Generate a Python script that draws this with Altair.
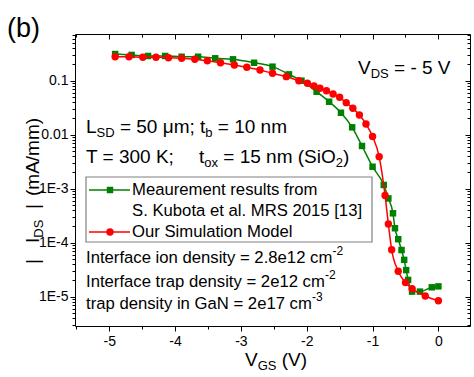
import altair as alt
import pandas as pd

# ---------------- data ----------------
meas_vgs = [-4.91, -4.66, -4.41, -4.15, -3.90, -3.65, -3.39, -3.12, -2.80, -2.52,
            -2.27, -2.08, -1.85, -1.66, -1.48, -1.31, -1.16, -1.00, -0.83, -0.76,
            -0.69, -0.66, -0.61, -0.56, -0.52, -0.49, -0.46, -0.40, -0.28, -0.10, 0.0]
meas_ids = [0.312, 0.300, 0.287, 0.287, 0.278, 0.278, 0.260, 0.249, 0.215, 0.182,
            0.131, 0.100, 0.0625, 0.0408, 0.0255, 0.0137, 0.00618, 0.00255, 0.00117, 6.6e-4,
            3.5e-4, 1.85e-4, 1.16e-4, 7.3e-5, 4.8e-5, 3.1e-5, 2.04e-5, 1.24e-5, 1.24e-5, 1.49e-5, 1.55e-5]

sim_vgs = [-4.91, -4.70, -4.49, -4.29, -4.10, -3.90, -3.70, -3.51, -3.31, -3.10,
           -2.91, -2.71, -2.52, -2.31, -2.12, -1.99, -1.89, -1.80, -1.70, -1.60,
           -1.50, -1.40, -1.30, -1.20, -1.10, -1.00, -0.90, -0.81, -0.76, -0.71,
           -0.61, -0.50, -0.40, -0.20, 0.0]
sim_ids = [0.278, 0.278, 0.271, 0.271, 0.267, 0.260, 0.249, 0.234, 0.215, 0.195,
           0.177, 0.158, 0.137, 0.119, 0.100, 0.0895, 0.0798, 0.0723, 0.0653, 0.0567,
           0.0493, 0.0392, 0.0308, 0.0232, 0.0158, 0.00927, 0.00392, 7.5e-4, 2.22e-4, 7.4e-5,
           2.96e-5, 1.82e-5, 1.40e-5, 1.03e-5, 8.4e-6]

x_tick_values = [-5, -4, -3, -2, -1, 0]
x_tick_labels = ["-5", "-4", "-3", "-2", "-1", "0"]
y_tick_values = [1e-5, 1e-4, 1e-3, 0.01, 0.1]
y_tick_labels = ["1E-5", "1E-4", "1E-3", "0.01", "0.1"]

legend_labels = ["Meaurement results from", "S. Kubota et al. MRS 2015 [13]", "Our Simulation Model"]

# ---------------- styling ----------------
FONT = "Liberation Sans"
GREEN = "#008000"
RED = "#ff0000"
PL, PT = 75, 34          # plot origin on the page
PW, PH = 395, 292        # plot size

xsc = alt.Scale(domain=[-5.52, 0.48], nice=False, zero=False)
ysc = alt.Scale(type="log", domain=[2.86e-6, 0.733], nice=False)

meas = pd.DataFrame({"vgs": meas_vgs, "ids": meas_ids})
sim = pd.DataFrame({"vgs": sim_vgs, "ids": sim_ids})

X = lambda **k: alt.X("vgs:Q", scale=xsc, **k)
Y = lambda **k: alt.Y("ids:Q", scale=ysc, **k)

meas_line = alt.Chart(meas).mark_line(color=GREEN, strokeWidth=1.5, interpolate="monotone").encode(
    x=X(axis=None), y=Y(axis=None))
meas_pts = alt.Chart(meas).mark_square(color=GREEN, size=42, opacity=1).encode(
    x=X(axis=None), y=Y(axis=None))
sim_line = alt.Chart(sim).mark_line(color=RED, strokeWidth=1.5, interpolate="monotone").encode(
    x=X(axis=None), y=Y(axis=None))
sim_pts = alt.Chart(sim).mark_circle(color=RED, size=55, opacity=1).encode(
    x=X(axis=None), y=Y(axis=None))

# ---------------- axes (major / minor, outward on bottom/left, inward on top/right) ----------------
x_minor = [v / 2 for v in range(-11, 1)]
y_minor = [k * 10.0 ** e for e in range(-6, 0) for k in range(2, 10)
           if 2.86e-6 <= k * 10.0 ** e <= 0.733]

lab_x = "[" + ",".join("'%s'" % s for s in x_tick_labels) + "][round(datum.value)+5]"
lab_y = "[" + ",".join("'%s'" % s for s in y_tick_labels) + "][round(log(datum.value)/LN10)+5]"

common = dict(domain=False, grid=False, tickColor="black", title=None)


def axis_layer(xaxis, yaxis):
    return alt.Chart(meas).mark_point(opacity=0).encode(
        x=X(axis=xaxis), y=Y(axis=yaxis))


ax_main = axis_layer(
    alt.Axis(orient="bottom", values=x_tick_values, tickSize=5, labelExpr=lab_x,
             labelFont=FONT, labelFontSize=14, labelColor="black", labelPadding=3, **common),
    alt.Axis(orient="left", values=y_tick_values, tickSize=5, labelExpr=lab_y,
             labelFont=FONT, labelFontSize=14, labelColor="black", labelPadding=2, **common))
ax_minor = axis_layer(
    alt.Axis(orient="bottom", values=x_minor, tickSize=3, labels=False, **common),
    alt.Axis(orient="left", values=y_minor, tickSize=3, labels=False, **common))
ax_opp = axis_layer(
    alt.Axis(orient="top", values=x_tick_values, tickSize=5, offset=-5, labels=False, **common),
    alt.Axis(orient="right", values=y_tick_values, tickSize=5, offset=-5, labels=False, **common))
ax_opp_minor = axis_layer(
    alt.Axis(orient="top", values=x_minor, tickSize=3, offset=-3, labels=False, **common),
    alt.Axis(orient="right", values=y_minor, tickSize=3, offset=-3, labels=False, **common))

# ---------------- text annotations with sub/superscripts ----------------
W = {' ': 278, '(': 333, ')': 333, '-': 333, '.': 278, '/': 278, ';': 278, '=': 584,
     '[': 278, ']': 278, '|': 260, 'A': 667, 'D': 722, 'G': 778, 'I': 278, 'K': 667,
     'L': 556, 'M': 833, 'N': 722, 'O': 778, 'R': 722, 'S': 667, 'T': 611, 'V': 667,
     'a': 556, 'b': 556, 'c': 500, 'd': 556, 'e': 556, 'f': 278, 'i': 222, 'l': 222,
     'm': 833, 'n': 556, 'o': 556, 'p': 556, 'r': 333, 's': 500, 't': 278, 'u': 556,
     'x': 500, 'y': 500, 'μ': 576}


def tw(s, fs):
    return sum(W.get(c, 556) for c in s) * fs / 1000.0


rows = []


def run(x0, y, pieces):
    x = x0
    for p in pieces:
        if isinstance(p, (int, float)):
            x = p
            continue
        text, fs, dy = p
        lead = len(text) - len(text.lstrip(" "))
        core = text.strip(" ")
        rows.append(dict(text=core, px=x + tw(" " * lead, fs) - PL, py=y + dy - PT, fs=fs, ang=0))
        x += tw(text, fs)


def run_vertical(xc, y0, pieces):
    y = y0
    for p in pieces:
        if isinstance(p, (int, float)):
            y = p
            continue
        text, fs, dx = p
        rows.append(dict(text=text, px=xc + dx - PL, py=y - PT, fs=fs, ang=270))
        y -= tw(text, fs)


BIG, SUB, MID, SUP = 19, 13, 16.7, 12
run(7, 29, [("(b)", 27, 0)])
run(358, 68, [("V", BIG, 0), ("DS", SUB, 6), (" = - 5 V", BIG, 0)])
run(86, 127, [("L", BIG, 0), ("SD", SUB, 6), (" = 50 μm; t", BIG, 0), ("b", SUB, 6), (" = 10 nm", BIG, 0)])
run(86, 157, [("T = 300 K;", BIG, 0), 199, ("t", BIG, 0), ("ox", SUB, 6),
              (" = 15 nm (SiO", BIG, 0), ("2", SUB, 6), (")", BIG, 0)])
run(86, 258, [("Interface ion density = 2.8e12 cm", MID, 0), ("-2", SUP, -7)])
run(86, 282, [("Interface trap density = 2e12 cm", MID, 0), ("-2", SUP, -7)])
run(86, 304, [("trap density in GaN = 2e17 cm", MID, 0), ("-3", SUP, -7)])
run(245, 360, [("V", BIG, 0), ("GS", SUB, 6), (" (V)", BIG, 0)])
run_vertical(33, 264, [("|", BIG, 0), 243, ("I", BIG, 0), ("DS", SUB, 6), 209, ("|", BIG, 0),
                       196, ("(mA/mm)", BIG, 0)])

# legend box + entries
LX0, LX1, LY0, LY1 = 86, 372, 177, 242
leg_y = [190, 211, 232]
for lab, yy in zip(legend_labels, leg_y):
    run(132, yy, [(lab, MID, 0)])

ann = pd.DataFrame(rows)
texts = alt.Chart(ann).mark_text(align="left", baseline="middle", font=FONT, color="black").encode(
    x=alt.X("px:Q", scale=None, axis=None),
    y=alt.Y("py:Q", scale=None, axis=None),
    text="text:N",
    size=alt.Size("fs:Q", scale=None, legend=None),
    angle=alt.Angle("ang:Q", scale=None, legend=None))

one = pd.DataFrame({"k": [0]})
leg_box = alt.Chart(one).mark_rect(fill="white", stroke="#808080", strokeWidth=1.2).encode(
    x=alt.value(LX0 - PL), x2=alt.value(LX1 - PL), y=alt.value(LY0 - PT), y2=alt.value(LY1 - PT))
leg_g_line = alt.Chart(one).mark_rule(color=GREEN, strokeWidth=1.5).encode(
    x=alt.value(89 - PL), x2=alt.value(130 - PL), y=alt.value(leg_y[0] - PT))
leg_g_pt = alt.Chart(one).mark_square(color=GREEN, size=42, opacity=1).encode(
    x=alt.value(110 - PL), y=alt.value(leg_y[0] - PT))
leg_r_line = alt.Chart(one).mark_rule(color=RED, strokeWidth=1.5).encode(
    x=alt.value(89 - PL), x2=alt.value(130 - PL), y=alt.value(leg_y[2] - PT))
leg_r_pt = alt.Chart(one).mark_circle(color=RED, size=55, opacity=1).encode(
    x=alt.value(110 - PL), y=alt.value(leg_y[2] - PT))

chart = alt.layer(
    ax_main, ax_minor, ax_opp, ax_opp_minor,
    leg_box, leg_g_line, leg_g_pt, leg_r_line, leg_r_pt,
    meas_line, meas_pts, sim_line, sim_pts,
    texts,
).resolve_scale(x="independent", y="independent").resolve_axis(
    x="independent", y="independent"
).properties(
    width=PW, height=PH,
    autosize=alt.AutoSizeParams(type="none"),
    padding={"left": PL, "top": PT, "right": 474 - PL - PW, "bottom": 377 - PT - PH},
    background="white",
).configure_view(stroke="black", strokeWidth=1)

chart.save("out.html", embed_options={"renderer": "svg", "actions": False})
